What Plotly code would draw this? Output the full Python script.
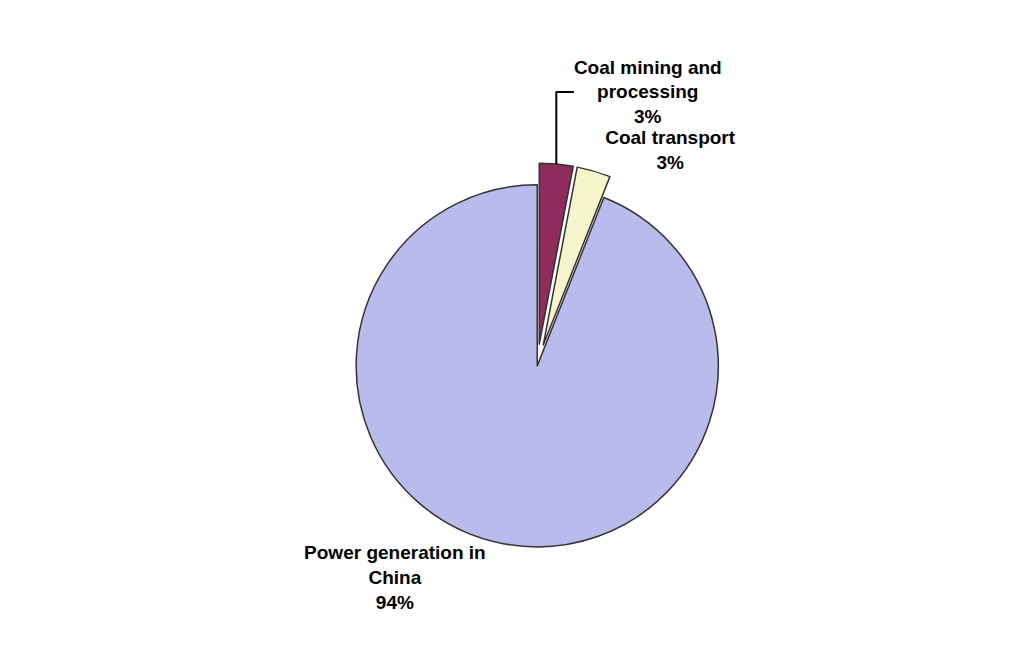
import plotly.graph_objects as go

labels = ["Coal mining and<br>processing", "Coal transport", "Power generation in<br>China"]
values = [3, 3, 94]
colors = ["#8e2d5c", "#f5f5cc", "#b9bbec"]
pulls = [0.12, 0.12, 0]

fig = go.Figure()
fig.add_trace(go.Pie(
    labels=labels,
    values=values,
    sort=False,
    direction="clockwise",
    rotation=0,
    pull=pulls,
    marker=dict(colors=colors, line=dict(color="#333333", width=1.5)),
    textinfo="label+percent",
    texttemplate="<b>%{label}<br>%{percent:.0%}</b>",
    textposition="outside",
    textfont=dict(family="Arial", size=19, color="black"),
    outsidetextfont=dict(family="Arial", size=19, color="black"),
    showlegend=False,
    hoverinfo="label+percent",
    domain=dict(x=[0.15, 0.92], y=[0.05, 0.85]),
))

fig.update_layout(
    width=1024,
    height=653,
    margin=dict(l=20, r=20, t=30, b=30),
    paper_bgcolor="white",
    plot_bgcolor="white",
)

fig.write_html("out.html")
